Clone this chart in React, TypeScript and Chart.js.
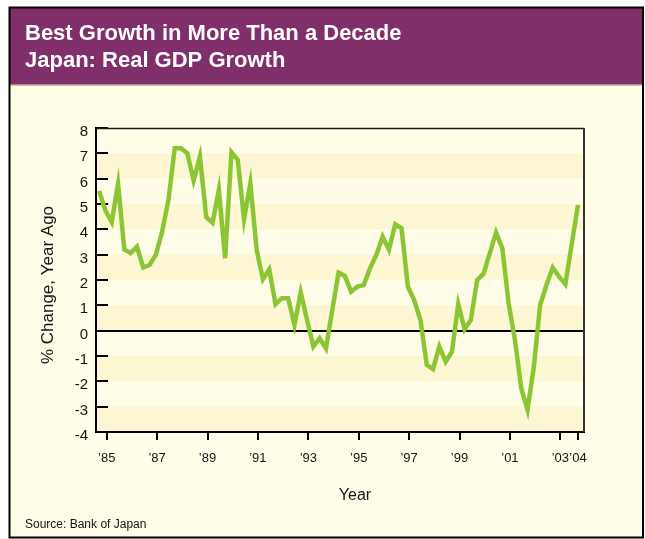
import React, { useEffect, useRef } from 'react';
import { Chart, registerables } from 'chart.js';

Chart.register(...registerables);

// ---- text ----
const TITLE_LINES = ['Best Growth in More Than a Decade', 'Japan: Real GDP Growth'];
const SOURCE_TEXT = 'Source: Bank of Japan';
const X_TITLE = 'Year';
const Y_TITLE = '% Change, Year Ago';

// ---- data: Japan real GDP growth, % change from a year ago, quarterly ----
const FIRST_QUARTER = 1984.7; // position of the first quarterly observation (in years)
const QUARTER_STEP = 0.25;
const growth = [
  5.52, 4.74, 4.28, 5.79, 3.21, 3.06, 3.32, 2.49, 2.59, 2.99,
  3.91, 5.16, 7.2, 7.2, 7.0, 5.92, 6.87, 4.48, 4.26, 5.55,
  2.86, 7.04, 6.74, 4.4, 5.82, 3.19, 2.03, 2.42, 1.04, 1.28,
  1.28, 0.23, 1.52, 0.42, -0.63, -0.3, -0.7, 0.8, 2.29, 2.16,
  1.54, 1.74, 1.8, 2.46, 2.99, 3.71, 3.19, 4.2, 4.04, 1.74,
  1.21, 0.42, -1.35, -1.52, -0.63, -1.22, -0.83, 1.05, 0.05, 0.42,
  2.0, 2.24, 3.05, 3.87, 3.25, 1.08, -0.37, -2.27, -3.13, -1.42,
  1.01, 1.8, 2.49, 2.13, 1.83, 3.4, 4.96,
];

// ---- axes ----
const yearTickValues = [1985, 1987, 1989, 1991, 1993, 1995, 1997, 1999, 2001, 2003, 2003.7];
const yearTickLabels = ['\u201985', '\u201987', '\u201989', '\u201991', '\u201993', '\u201995', '\u201997', '\u201999', '\u201901', '\u201903', '\u201904'];
const X_MIN = 1984.575;
const X_MAX = 2003.94;
const Y_MIN = -4;
const Y_MAX = 8;

const SANS = "'Liberation Sans', Arial, sans-serif";

const COLORS = {
  page: '#ffffff',
  panel: '#FFFCE8',
  band: '#FCF7D2',
  header: '#812F6A',
  headerRule: '#9A8C7E',
  line: '#8AC634',
  ink: '#141414',
};

const framePlugin = {
  id: 'framePlugin',
  beforeDraw(chart: any) {
    const { ctx, chartArea, scales } = chart;
    const W = chart.width;
    const H = chart.height;
    ctx.save();
    ctx.fillStyle = COLORS.page;
    ctx.fillRect(0, 0, W, H);
    // panel
    ctx.fillStyle = COLORS.panel;
    ctx.fillRect(9, 7, 634, 531);
    // header
    ctx.fillStyle = COLORS.header;
    ctx.fillRect(9, 7, 634, 77.5);
    ctx.fillStyle = COLORS.headerRule;
    ctx.fillRect(9, 84.5, 634, 1);
    // frame
    ctx.strokeStyle = '#000';
    ctx.lineWidth = 2;
    ctx.strokeRect(9.5, 7.5, 633.5, 530);
    // bands
    const y = scales.y;
    ctx.fillStyle = COLORS.band;
    for (let v = Y_MIN; v < Y_MAX; v++) {
      if ((v - Y_MIN) % 2 === 0) {
        const top = y.getPixelForValue(v + 1);
        const bot = y.getPixelForValue(v);
        ctx.fillRect(chartArea.left, top, chartArea.right - chartArea.left, bot - top);
      }
    }
    ctx.restore();
  },
  beforeDatasetsDraw(chart: any) {
    const { ctx, chartArea, scales } = chart;
    const y = scales.y;
    ctx.save();
    ctx.strokeStyle = '#000';
    ctx.lineWidth = 2;
    for (let v = Y_MIN; v <= Y_MAX; v++) {
      const p = Math.round(y.getPixelForValue(v));
      ctx.beginPath();
      ctx.moveTo(chartArea.left, p);
      ctx.lineTo(chartArea.left + 12, p);
      ctx.stroke();
    }
    // top border
    ctx.lineWidth = 1.5;
    ctx.strokeStyle = '#1a1a1a';
    ctx.beginPath();
    ctx.moveTo(chartArea.left, chartArea.top + 0.5);
    ctx.lineTo(chartArea.right, chartArea.top + 0.5);
    ctx.stroke();
    // right border
    ctx.lineWidth = 2;
    ctx.strokeStyle = '#333';
    ctx.beginPath();
    ctx.moveTo(chartArea.right, chartArea.top);
    ctx.lineTo(chartArea.right, chartArea.bottom);
    ctx.stroke();
    ctx.restore();
  },
  afterDraw(chart: any) {
    const { ctx } = chart;
    ctx.save();
    // title
    ctx.fillStyle = '#ffffff';
    ctx.textAlign = 'left';
    ctx.textBaseline = 'alphabetic';
    ctx.font = `bold 22px ${SANS}`;
    ctx.fillText(TITLE_LINES[0], 25, 40);
    ctx.fillText(TITLE_LINES[1], 25, 67);
    // source
    ctx.fillStyle = COLORS.ink;
    ctx.font = `12px ${SANS}`;
    ctx.fillText(SOURCE_TEXT, 25, 528);
    // x title
    ctx.textAlign = 'center';
    ctx.font = `16px ${SANS}`;
    ctx.fillText(X_TITLE, 355, 500);
    // y title
    ctx.translate(48, 285);
    ctx.rotate(-Math.PI / 2);
    ctx.textBaseline = 'middle';
    ctx.font = `17px ${SANS}`;
    ctx.fillText(Y_TITLE, 0, 0);
    ctx.restore();
  },
};

export default function App() {
  const canvasRef = useRef<HTMLCanvasElement | null>(null);

  useEffect(() => {
    const canvas = canvasRef.current;
    if (!canvas) return;
    const points = growth.map((v, i) => ({ x: FIRST_QUARTER + i * QUARTER_STEP, y: v }));
    const chart = new Chart(canvas, {
      type: 'line',
      data: {
        datasets: [
          {
            data: points,
            borderColor: COLORS.line,
            borderWidth: 4.5,
            pointRadius: 0,
            tension: 0,
            fill: false,
          },
        ],
      },
      options: {
        animation: false,
        responsive: false,
        maintainAspectRatio: false,
        devicePixelRatio: 1,
        layout: { padding: { left: 0, top: 128, right: 61, bottom: 0 } },
        plugins: {
          legend: { display: false },
          tooltip: { enabled: false },
          title: { display: false },
        },
        scales: {
          x: {
            type: 'linear',
            min: X_MIN,
            max: X_MAX,
            afterBuildTicks: (scale: any) => {
              scale.ticks = yearTickValues.map((v) => ({ value: v }));
            },
            afterFit: (scale: any) => {
              scale.height = 107;
            },
            ticks: {
              autoSkip: false,
              maxRotation: 0,
              minRotation: 0,
              padding: 11,
              color: COLORS.ink,
              font: { family: SANS, size: 13 },
              callback: (_v: any, i: number) => yearTickLabels[i],
            },
            grid: {
              drawOnChartArea: false,
              drawTicks: true,
              tickLength: 8,
              color: '#000',
              lineWidth: 2,
            },
            border: { display: true, color: '#000', width: 2 },
          },
          y: {
            type: 'linear',
            min: Y_MIN,
            max: Y_MAX,
            afterFit: (scale: any) => {
              scale.width = 96;
            },
            ticks: {
              stepSize: 1,
              padding: 8,
              labelOffset: 4,
              color: COLORS.ink,
              font: { family: SANS, size: 15 },
            },
            grid: {
              drawTicks: false,
              lineWidth: 2,
              color: (ctx: any) => (ctx.tick && ctx.tick.value === 0 ? '#000' : 'rgba(0,0,0,0)'),
            },
            border: { display: true, color: '#000', width: 2 },
          },
        },
      },
      plugins: [framePlugin],
    });
    return () => chart.destroy();
  }, []);

  return (
    <div style={{ position: 'absolute', left: 0, top: 0, width: 645, height: 539 }}>
      <canvas ref={canvasRef} width={645} height={539} style={{ width: 645, height: 539, display: 'block' }} />
    </div>
  );
}
